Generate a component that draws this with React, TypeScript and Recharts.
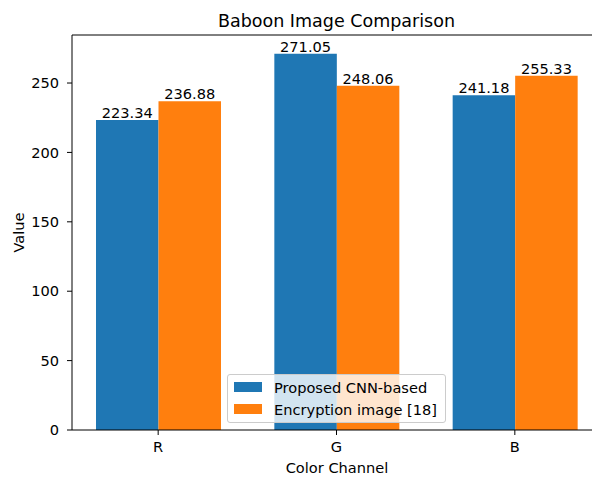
import { BarChart, Bar, XAxis, YAxis, LabelList, ReferenceLine } from 'recharts';

const channels = ['R', 'G', 'B'];
const proposedCnn = [223.34, 271.05, 241.18];
const encryptionRef = [236.88, 248.06, 255.33];
const yTicks = [0, 50, 100, 150, 200, 250];

const seriesNames = ['Proposed CNN-based', 'Encryption image [18]'];
const BLUE = '#1f77b4';
const ORANGE = '#ff7f0e';
const FONT = '"DejaVu Sans", sans-serif';
const FS = 14.6;

const data = channels.map((c, i) => ({
    channel: c,
    proposed: proposedCnn[i],
    encryption: encryptionRef[i],
}));

const Y_MAX = Math.max(...proposedCnn, ...encryptionRef) * 1.05;

// matplotlib-style legend box, laid over the plot
const LegendBox = () => (
    <div
        style={{
            position: 'absolute',
            left: 227,
            top: 374,
            width: 217,
            height: 47,
            border: '1px solid #cccccc',
            borderRadius: 3,
            background: 'rgba(255,255,255,0.8)',
            fontFamily: FONT,
            fontSize: FS,
            color: '#000',
        }}
    >
        {seriesNames.map((name, i) => (
            <div key={name} style={{ display: 'flex', alignItems: 'center', height: 22, marginTop: i === 0 ? 1 : 0 }}>
                <span
                    style={{
                        display: 'inline-block',
                        width: 28,
                        height: 10,
                        marginLeft: 6,
                        marginRight: 12,
                        background: i === 0 ? BLUE : ORANGE,
                    }}
                />
                <span>{name}</span>
            </div>
        ))}
    </div>
);

const ValueAxisLabel = ({ viewBox }: any) => {
    const cy = viewBox.y + viewBox.height / 2;
    return (
        <text x={18} y={cy} transform={`rotate(-90 18 ${cy})`} textAnchor="middle" dominantBaseline="central"
            fontFamily={FONT} fontSize={FS} fill="#000">
            Value
        </text>
    );
};

export default function App() {
    return (
        <div style={{ position: 'absolute', left: 0, top: 0, width: 592, height: 477, overflow: 'hidden', background: '#fff' }}>
            <div
                style={{
                    position: 'absolute',
                    left: 0,
                    width: 673,
                    top: 11,
                    textAlign: 'center',
                    fontFamily: FONT,
                    fontSize: 17.5,
                    lineHeight: '20px',
                    color: '#000',
                }}
            >
                Baboon Image Comparison
            </div>
            <BarChart
                width={612}
                height={477}
                data={data}
                margin={{ top: 35, right: 10, left: 0, bottom: 0 }}
                barGap={0}
                barSize={62.5}
            >
                <XAxis
                    dataKey="channel"
                    height={47}
                    padding={{ left: -3, right: -2 }}
                    stroke="#000"
                    tickSize={5}
                    tickMargin={7}
                    tick={{ fill: '#000', fontSize: FS, fontFamily: FONT }}
                    label={{ value: 'Color Channel', position: 'insideBottom', offset: 4, fill: '#000', fontSize: FS, fontFamily: FONT }}
                />
                <YAxis
                    width={72}
                    domain={[0, Y_MAX]}
                    ticks={yTicks}
                    allowDataOverflow
                    stroke="#000"
                    tickSize={5}
                    tickMargin={8}
                    tick={{ fill: '#000', fontSize: FS, fontFamily: FONT }}
                    label={<ValueAxisLabel />}
                />
                <ReferenceLine y={Y_MAX} stroke="#000" ifOverflow="visible" />
                <Bar dataKey="proposed" name={seriesNames[0]} fill={BLUE} isAnimationActive={false}>
                    <LabelList dataKey="proposed" position="top" offset={2} fill="#000" fontSize={FS} fontFamily={FONT}
                        formatter={(v: any) => Number(v).toFixed(2)} />
                </Bar>
                <Bar dataKey="encryption" name={seriesNames[1]} fill={ORANGE} isAnimationActive={false}>
                    <LabelList dataKey="encryption" position="top" offset={2} fill="#000" fontSize={FS} fontFamily={FONT}
                        formatter={(v: any) => Number(v).toFixed(2)} />
                </Bar>
            </BarChart>
            <LegendBox />
        </div>
    );
}
